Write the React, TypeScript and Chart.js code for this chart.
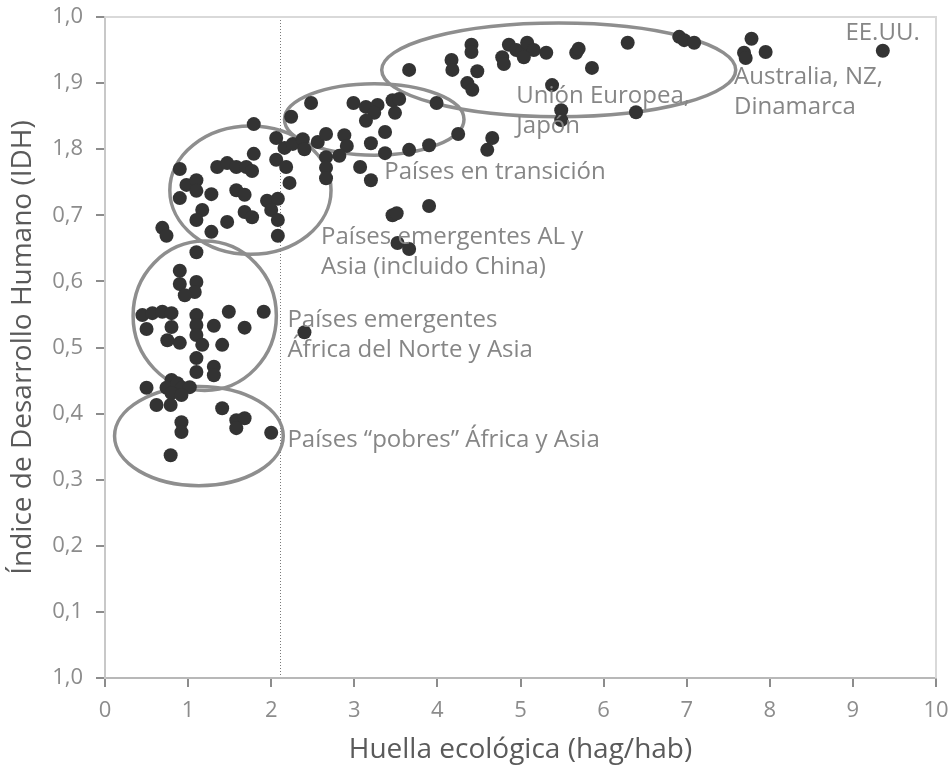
import React, { useEffect, useRef } from 'react';
import { Chart, registerables } from 'chart.js';

Chart.register(...registerables);

// Huella ecológica (hag/hab) per country
const huella = [
  0.90, 0.90, 1.10, 1.08, 0.96, 0.45, 0.57, 0.69, 0.80, 0.50, 0.80, 1.10, 1.10, 1.10, 1.17,
  1.31, 1.49, 1.68, 1.91, 0.75, 0.90, 1.41, 1.10, 1.10, 1.31, 1.31, 0.50, 0.80, 0.74, 0.87,
  0.93, 1.02, 0.80, 0.92, 0.62, 0.79, 1.41, 1.58, 1.68, 1.58, 0.92, 0.92, 2.00, 0.79, 2.40,
  1.79, 0.90, 0.98, 1.10, 1.10, 0.90, 1.28, 1.35, 1.47, 1.58, 1.70, 1.77, 1.79, 1.58, 1.68,
  1.17, 1.10, 1.68, 1.77, 1.47, 1.28, 0.69, 0.74, 1.10, 1.95, 2.08, 2.00, 2.08, 2.08, 2.06,
  2.06, 2.18, 2.22, 2.16, 2.26, 2.38, 2.40, 2.24, 2.48, 2.56, 2.66, 2.88, 2.91, 2.82, 2.66,
  2.66, 2.66, 2.99, 3.14, 3.28, 3.24, 3.14, 3.46, 3.54, 3.49, 3.37, 3.20, 3.37, 3.66, 3.90,
  3.99, 4.25, 3.07, 3.20, 3.46, 3.51, 3.90, 3.52, 3.66, 4.36, 4.42, 4.66, 4.60, 3.66, 4.17,
  4.18, 4.41, 4.41, 4.48, 4.78, 4.86, 4.80, 4.95, 5.02, 5.08, 5.16, 5.04, 5.31, 5.67, 5.70,
  5.86, 6.29, 5.38, 5.49, 5.49, 6.39, 6.91, 6.97, 7.09, 7.78, 7.69, 7.71, 7.95, 9.36,
];

// Índice de Desarrollo Humano per country
const idh = [
  0.616, 0.596, 0.599, 0.584, 0.579, 0.549, 0.552, 0.554, 0.552, 0.528, 0.531, 0.549, 0.534, 0.519, 0.504,
  0.533, 0.554, 0.530, 0.554, 0.511, 0.507, 0.504, 0.484, 0.463, 0.471, 0.458, 0.439, 0.451, 0.439, 0.446,
  0.439, 0.440, 0.431, 0.428, 0.413, 0.413, 0.408, 0.390, 0.393, 0.378, 0.387, 0.372, 0.371, 0.337, 0.523,
  0.838, 0.770, 0.746, 0.753, 0.737, 0.726, 0.732, 0.773, 0.779, 0.773, 0.773, 0.767, 0.793, 0.738, 0.731,
  0.708, 0.693, 0.705, 0.697, 0.690, 0.675, 0.681, 0.669, 0.644, 0.722, 0.725, 0.708, 0.693, 0.669, 0.817,
  0.784, 0.773, 0.749, 0.802, 0.808, 0.815, 0.800, 0.849, 0.870, 0.811, 0.823, 0.821, 0.805, 0.790, 0.788,
  0.772, 0.756, 0.870, 0.864, 0.867, 0.855, 0.843, 0.874, 0.876, 0.855, 0.826, 0.809, 0.794, 0.799, 0.806,
  0.870, 0.823, 0.773, 0.753, 0.700, 0.703, 0.714, 0.658, 0.649, 0.900, 0.890, 0.817, 0.799, 0.920, 0.935,
  0.920, 0.958, 0.947, 0.918, 0.939, 0.958, 0.929, 0.950, 0.946, 0.961, 0.950, 0.939, 0.946, 0.946, 0.952,
  0.923, 0.961, 0.897, 0.859, 0.844, 0.856, 0.970, 0.965, 0.961, 0.967, 0.946, 0.938, 0.947, 0.949,
];

const xTickLabels = ['0', '1', '2', '3', '4', '5', '6', '7', '8', '9', '10'];
const yTickLabels = ['1,0', '0,1', '0,2', '0,3', '0,4', '0,5', '0,6', '0,7', '1,8', '1,9', '1,0'];

const xTitle = 'Huella ecológica (hag/hab)';
const yTitle = 'Índice de Desarrollo Humano (IDH)';

// biocapacity threshold (vertical dotted line)
const threshold = 2.1;

// group ellipses: centre and radii in data units
const groupCx = [1.13, 1.20, 1.75, 3.24, 5.46];
const groupCy = [0.366, 0.548, 0.738, 0.845, 0.920];
const groupRx = [1.015, 0.862, 0.97, 1.08, 2.13];
const groupRy = [0.075, 0.113, 0.097, 0.054, 0.071];

// group labels
const groupText = [
  ['EE.UU.'],
  ['Australia, NZ,', 'Dinamarca'],
  ['Unión Europea,', 'Japón'],
  ['Países en transición'],
  ['Países emergentes AL y', 'Asia (incluido China)'],
  ['Países emergentes', 'África del Norte y Asia'],
  ['Países “pobres” África y Asia'],
];
const groupTextX = [8.91, 7.57, 4.95, 3.36, 2.60, 2.195, 2.195];
const groupTextY = [0.976, 0.909, 0.880, 0.766, 0.667, 0.542, 0.360];

const FONT = '"Open Sans", "DejaVu Sans", sans-serif';

const overlayPlugin = {
  id: 'overlay',
  beforeDatasetsDraw(chart: any) {
    const { ctx, chartArea, scales } = chart;
    const xs = scales.x;
    const ys = scales.y;
    ctx.save();
    // top and right frame
    ctx.strokeStyle = '#d9d9d9';
    ctx.lineWidth = 2;
    ctx.beginPath();
    ctx.moveTo(chartArea.left, chartArea.top);
    ctx.lineTo(chartArea.right, chartArea.top);
    ctx.lineTo(chartArea.right, chartArea.bottom);
    ctx.stroke();
    // dotted threshold line
    const tx = Math.round(xs.getPixelForValue(threshold)) + 0.5;
    ctx.strokeStyle = '#7a7a7a';
    ctx.lineWidth = 1;
    ctx.setLineDash([1, 2]);
    ctx.beginPath();
    ctx.moveTo(tx, chartArea.top + 3);
    ctx.lineTo(tx, chartArea.bottom - 2);
    ctx.stroke();
    ctx.setLineDash([]);
    // ellipses
    ctx.strokeStyle = '#8e8e8e';
    ctx.lineWidth = 3.5;
    for (let i = 0; i < groupCx.length; i++) {
      const cx = xs.getPixelForValue(groupCx[i]);
      const cy = ys.getPixelForValue(groupCy[i]);
      const rx = Math.abs(xs.getPixelForValue(groupCx[i] + groupRx[i]) - cx);
      const ry = Math.abs(ys.getPixelForValue(groupCy[i] + groupRy[i]) - cy);
      ctx.beginPath();
      ctx.ellipse(cx, cy, rx, ry, 0, 0, Math.PI * 2);
      ctx.stroke();
    }
    ctx.restore();
  },
  afterDatasetsDraw(chart: any) {
    const { ctx, scales } = chart;
    ctx.save();
    ctx.fillStyle = '#868686';
    ctx.font = `24px ${FONT}`;
    ctx.textAlign = 'left';
    ctx.textBaseline = 'middle';
    for (let i = 0; i < groupText.length; i++) {
      const px = scales.x.getPixelForValue(groupTextX[i]);
      const py = scales.y.getPixelForValue(groupTextY[i]);
      groupText[i].forEach((line, j) => {
        ctx.fillText(line, px, py + j * 30);
      });
    }
    ctx.restore();
  },
};

export default function App() {
  const canvasRef = useRef<HTMLCanvasElement | null>(null);

  useEffect(() => {
    if (!canvasRef.current) return;
    const points = huella.map((v, i) => ({ x: v, y: idh[i] }));
    const chart = new Chart(canvasRef.current, {
      type: 'scatter',
      data: {
        datasets: [
          {
            data: points,
            backgroundColor: '#333333',
            borderWidth: 0,
            pointRadius: 7,
            pointHoverRadius: 7,
          },
        ],
      },
      options: {
        animation: false,
        responsive: true,
        maintainAspectRatio: false,
        layout: { padding: { left: 0, right: 15, top: 17, bottom: 0 } },
        plugins: {
          legend: { display: false },
          tooltip: { enabled: false },
        },
        scales: {
          x: {
            type: 'linear',
            min: 0,
            max: 10,
            afterFit: (s: any) => {
              s.height = 89;
              s.paddingLeft = 0;
              s.paddingRight = 0;
            },
            ticks: {
              stepSize: 1,
              padding: 11,
              color: '#8c8c8c',
              font: { family: FONT, size: 22 },
              callback: (_v: any, i: number) => xTickLabels[i],
            },
            grid: {
              display: true,
              drawOnChartArea: false,
              drawTicks: true,
              tickLength: 9,
              color: '#8c8c8c',
              lineWidth: 2,
            },
            border: { display: true, color: '#b8b8b8', width: 2 },
            title: {
              display: true,
              text: xTitle,
              color: '#5a5a5a',
              font: { family: FONT, size: 28 },
              padding: { top: 0, bottom: 0 },
            },
          },
          y: {
            type: 'linear',
            min: 0,
            max: 1,
            afterFit: (s: any) => {
              s.width = 105;
              s.paddingTop = 0;
              s.paddingBottom = 0;
            },
            ticks: {
              stepSize: 0.1,
              padding: 13,
              color: '#8c8c8c',
              font: { family: FONT, size: 22 },
              callback: (_v: any, i: number) => yTickLabels[i],
            },
            grid: {
              display: true,
              drawOnChartArea: false,
              drawTicks: true,
              tickLength: 9,
              color: '#8c8c8c',
              lineWidth: 2,
            },
            border: { display: true, color: '#c8c8c8', width: 2 },
            title: {
              display: true,
              text: yTitle,
              color: '#5a5a5a',
              font: { family: FONT, size: 28 },
              padding: { top: 6, bottom: 0 },
            },
          },
        },
      },
      plugins: [overlayPlugin],
    });
    return () => chart.destroy();
  }, []);

  return (
    <div style={{ position: 'absolute', left: 0, top: 0, width: 951, height: 767 }}>
      <canvas ref={canvasRef} />
    </div>
  );
}
